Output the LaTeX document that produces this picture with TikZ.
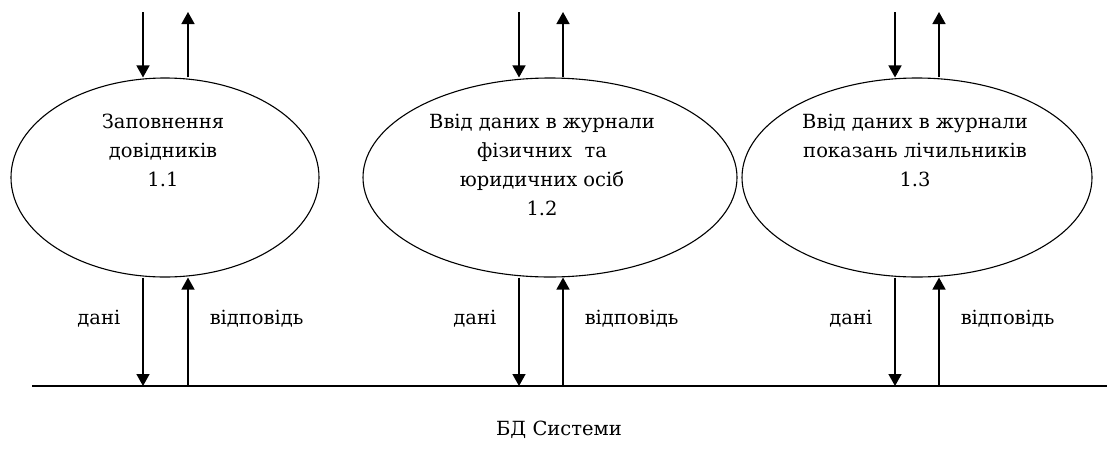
\documentclass[tikz,border=0pt]{standalone}
\usepackage{fontspec}
\setmainfont{DejaVu Serif}
\usetikzlibrary{arrows.meta,shapes.geometric}
\begin{document}
\begin{tikzpicture}[x=1pt,y=-1pt,
  process/.style={draw, ellipse, line width=1.1pt, inner sep=0pt, minimum height=199pt},
  ptext/.style={align=center, anchor=north, inner sep=0pt, font=\fontsize{19.5}{29}\selectfont},
  lbl/.style={inner sep=0pt, font=\fontsize{19.5}{25}\selectfont},
  flow/.style={line width=1.5pt, -{Triangle[width=13pt,length=12pt]}}]
\useasboundingbox (0,0) rectangle (1107,472);

% processes
\node[process, minimum width=308pt] (p1) at (165,177.5) {};
\node[process, minimum width=374pt] (p2) at (550,177.5) {};
\node[process, minimum width=350pt] (p3) at (917,177.5) {};

\node[ptext] (t1) at (163,114) {Заповнення\\довідників\\1.1};
\node[ptext] (t2) at (542,114) {Ввід даних в журнали\\фізичних\ \ та\\юридичних осіб\\1.2};
\node[ptext] (t3) at (915,114) {Ввід даних в журнали\\показань лічильників\\1.3};

% data store line
\coordinate (dbL) at (32,386);
\coordinate (dbR) at (1107,386);
\draw[line width=1.5pt] (dbL) -- (dbR);
\node[lbl] (db) at (559,430) {БД Системи};

% free ends of the incoming / outgoing flows at the top
\coordinate (a1) at (143,12);
\coordinate (b1) at (188,12);
\coordinate (a2) at (519,12);
\coordinate (b2) at (563,12);
\coordinate (a3) at (895,12);
\coordinate (b3) at (939,12);

\foreach \i in {1,2,3}{
  \draw[flow] (a\i) -- (a\i |- p\i.north);
  \draw[flow] (b\i |- p\i.north) -- (b\i);
  \draw[flow] (a\i |- p\i.south) -- node[lbl, pos=0.38, left=22pt] (d\i) {дані} (a\i |- dbL);
  \draw[flow] (b\i |- dbL) -- node[lbl, pos=0.62, right=21pt] (r\i) {відповідь} (b\i |- p\i.south);
}
\end{tikzpicture}
\end{document}
